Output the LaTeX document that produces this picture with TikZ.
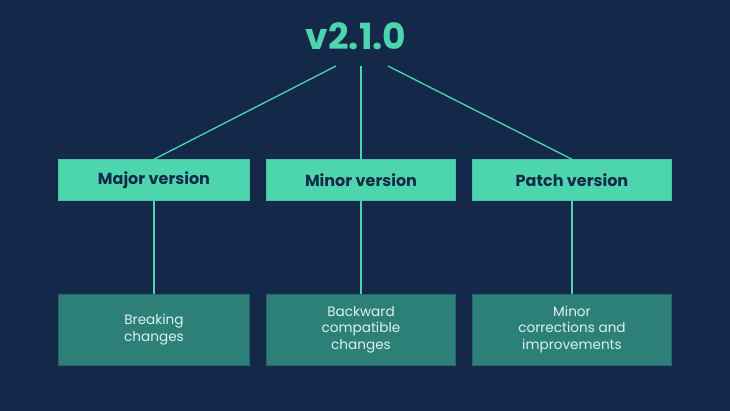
\documentclass[tikz,border=0pt]{standalone}
\usepackage{fontspec}
\setmainfont{Poppins}
\usetikzlibrary{positioning}
\definecolor{navy}{HTML}{14294A}
\definecolor{mint}{HTML}{4DD6AD}
\definecolor{teal}{HTML}{2C8077}
\definecolor{tealedge}{HTML}{23696A}
\definecolor{pale}{HTML}{DDF1EE}

\begin{document}
\begin{tikzpicture}[x=1pt, y=-1pt,
    link/.style={draw=mint, line width=1.3pt},
    kind/.style={draw=mint!80!teal, fill=mint, text=navy, font=\fontsize{16}{19}\selectfont\bfseries,
      minimum height=41pt, inner sep=0pt},
    means/.style={draw=tealedge, fill=teal, text=pale, font=\fontsize{13.6}{16.5}\selectfont,
      minimum height=71pt, inner sep=0pt, align=center}]

    % Background and frame
    \fill[navy] (0,0) rectangle (730,411);
    \useasboundingbox (0,0) rectangle (730,411);

    % Version number
    \node[text=mint, font=\fontsize{36}{40}\selectfont\bfseries] (ver) at (356,36) {v2.1.0};
    \coordinate (v1) at (336,66);
    \coordinate (v2) at (361,66);
    \coordinate (v3) at (388,66);

    % Boxes and links
    \foreach \n/\x/\w/\t/\d in {major/154/191/Major version/{Breaking\\changes},
                                minor/361/189/Minor version/{Backward\\compatible\\changes},
                                patch/572/199/Patch version/{Minor\\corrections and\\improvements}} {
      % Upper box
      \node[kind, minimum width=\w pt] (\n) at (\x,180) {\t};
      % Lower box
      \node[means, minimum width=\w pt] (\n d) at (\x,329.5) {\d};
      \draw[link] (\n.south) -- (\n d.north);
    }

    % Lines from the number
    \draw[link] (v1) -- (major.north);
    \draw[link] (v2) -- (minor.north);
    \draw[link] (v3) -- (patch.north);

\end{tikzpicture}
\end{document}
